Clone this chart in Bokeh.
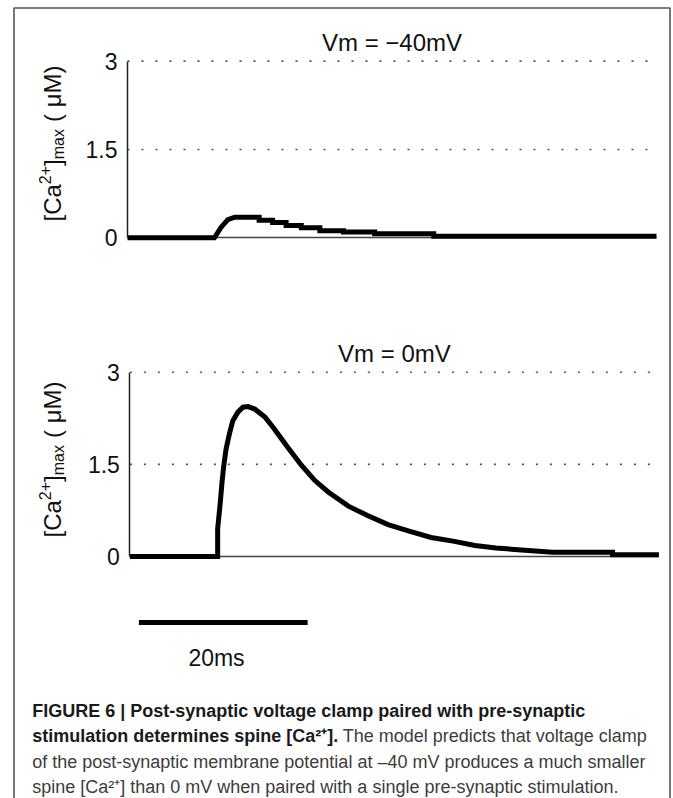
from math import pi

from bokeh.core.properties import value
from bokeh.embed import file_html
from bokeh.models import FixedTicker, LinearAxis, PrintfTickFormatter, Range1d
from bokeh.plotting import figure
from bokeh.resources import INLINE

# ---- data: spine [Ca2+] (uM) against time (ms) ----
# post-synaptic membrane clamped at -40 mV (quantised staircase decay)
t_neg40 = [0, 10.3, 11.1, 11.9, 12.7, 15.6, 15.6, 17.2, 17.2, 18.8, 18.8, 20.6,
           20.6, 22.8, 22.8, 25.6, 25.6, 29.3, 29.3, 36.3, 36.3, 62.7]
ca_neg40 = [0, 0, 0.18, 0.31, 0.35, 0.35, 0.30, 0.30, 0.26, 0.26, 0.21, 0.21,
            0.17, 0.17, 0.12, 0.12, 0.10, 0.10, 0.07, 0.07, 0.025, 0.025]

# post-synaptic membrane clamped at 0 mV
t_zero = [0, 10.4, 10.4, 10.7, 10.9, 11.1, 11.4, 11.8, 12.2, 12.8, 13.4, 14.0,
          14.8, 16.0, 17.1, 18.7, 20.3, 21.9, 23.5, 25.9, 28.1, 30.6, 33.2, 35.7,
          38.3, 40.9, 43.4, 46.0, 50.1, 57.2, 57.2, 62.7]
ca_zero = [0, 0, 0.45, 0.86, 1.18, 1.45, 1.75, 2.00, 2.21, 2.35, 2.43, 2.44,
           2.40, 2.27, 2.08, 1.78, 1.49, 1.24, 1.05, 0.82, 0.67, 0.52, 0.41, 0.31,
           0.25, 0.18, 0.14, 0.11, 0.07, 0.07, 0.03, 0.03]

panel_titles = ["Vm = \u221240mV", "Vm = 0mV"]
y_ticks = [0, 1.5, 3]
grid_levels = [1.5, 3]
scale_bar_ms = 20
scale_bar_label = "20ms"
T_END = 62.7

caption_lines = [
    ("FIGURE 6 | Post-synaptic voltage clamp paired with pre-synaptic", "bold"),
    ("stimulation determines spine [Ca\u00b2\u207a].", "bold"),
    ("The model predicts that voltage clamp", "normal"),
    ("of the post-synaptic membrane potential at \u201340 mV produces a much smaller", "normal"),
    ("spine [Ca\u00b2\u207a] than 0 mV when paired with a single pre-synaptic stimulation.", "normal"),
]

# ---- page geometry (pixels) ----
W, H = 673, 798
AX_LEFT, AX_RIGHT = 127, 656
MS_PER_PX = T_END / (AX_RIGHT - AX_LEFT)
FONT = value("Liberation Sans")


def value_range(zero_px, top_px, top_val=3.0):
    per = (zero_px - top_px) / top_val
    return Range1d(start=-(H - zero_px) / per, end=top_val + top_px / per)


def time_range(shift_px=0.0):
    left = AX_LEFT + shift_px
    return Range1d(start=-left * MS_PER_PX, end=(W - left) * MS_PER_PX)


p = figure(width=W, height=H, output_backend="svg", toolbar_location=None,
           x_axis_location=None, y_axis_location=None, min_border=0,
           x_range=time_range(), y_range=value_range(237.3, 60.6),
           background_fill_color="white", border_fill_color="white")
p.outline_line_color = None
p.grid.visible = False
p.extra_x_ranges = {"lower_t": time_range(2.4), "page_x": Range1d(0, W)}
p.extra_y_ranges = {"lower_ca": value_range(556.0, 371.7), "page_y": Range1d(H, 0)}

# outer frame of the figure (open at the bottom)
p.line(x=[13.5, 13.5, 669.5, 669.5], y=[H, 7.5, 7.5, H],
       x_range_name="page_x", y_range_name="page_y",
       line_color="#555555", line_width=1.6)

panels = [
    dict(t=t_neg40, ca=ca_neg40, title=panel_titles[0], xr="default", yr="default",
         title_y=41.7, label_base=221.0),
    dict(t=t_zero, ca=ca_zero, title=panel_titles[1], xr="lower_t", yr="lower_ca",
         title_y=353.3, label_base=537.0),
]

for pn in panels:
    xr, yr = pn["xr"], pn["yr"]

    # dotted horizontal grid
    p.segment(x0=[0] * len(grid_levels), x1=[pn["t"][-1]] * len(grid_levels),
              y0=grid_levels, y1=grid_levels, x_range_name=xr, y_range_name=yr,
              line_color="#555555", line_width=1.6, line_dash="2 12")

    # trace
    p.line(pn["t"], pn["ca"], x_range_name=xr, y_range_name=yr,
           line_color="black", line_width=5, line_join="miter")

    # value axis
    yax = LinearAxis(x_range_name=xr, y_range_name=yr, fixed_location=0, bounds=(0, 3),
                     ticker=FixedTicker(ticks=y_ticks, minor_ticks=[]),
                     formatter=PrintfTickFormatter(format="%g"),
                     major_tick_in=0, major_tick_out=0, minor_tick_in=0, minor_tick_out=0,
                     major_label_standoff=10, axis_line_width=1.5, axis_line_color="#222222",
                     major_label_text_font="Liberation Sans",
                     major_label_text_font_size="23px", major_label_text_color="#111111")
    p.add_layout(yax, "left")

    # zero line of the time axis
    xax = LinearAxis(x_range_name=xr, y_range_name=yr, fixed_location=0,
                     bounds=(0, pn["t"][-1]), ticker=FixedTicker(ticks=[], minor_ticks=[]),
                     major_tick_line_color=None, minor_tick_line_color=None,
                     major_label_text_font_size="0px",
                     axis_line_width=1.4, axis_line_color="#444444", level="underlay")
    p.add_layout(xax, "below")

    # panel title
    p.text(x=[T_END / 2], y=[pn["title_y"]], text=[pn["title"]],
           x_range_name=xr, y_range_name="page_y", text_font=FONT,
           text_font_size="24px", text_align="center", text_baseline="alphabetic",
           text_color="#111111")

    # rotated value-axis label: [Ca2+]max ( uM), set piece by piece along the axis
    b = pn["label_base"]
    pieces = [
        ("[Ca", 52.0, b, "24px"),
        ("2+", 44.0, b - 37.3, "16px"),
        ("]", 52.0, b - 55.5, "24px"),
        ("max", 57.5, b - 62.2, "16px"),
        ("( \u03bcM)", 52.0, b - 99.5, "24px"),
    ]
    for txt, lx, ly, size in pieces:
        p.text(x=[lx], y=[ly], text=[txt], x_range_name="page_x", y_range_name="page_y",
               angle=pi / 2, text_font=FONT, text_font_size=size,
               text_align="left", text_baseline="alphabetic", text_color="#111111")

# 20 ms scale bar
SCALE_BAR_START = 1.35
p.segment(x0=[SCALE_BAR_START], x1=[SCALE_BAR_START + scale_bar_ms], y0=[622], y1=[622],
          x_range_name="default", y_range_name="page_y",
          line_color="black", line_width=5)
p.text(x=[216.0], y=[657.3], text=[scale_bar_label], x_range_name="page_x",
       y_range_name="page_y", text_font=FONT, text_font_size="23px",
       text_align="center", text_baseline="alphabetic", text_color="#111111")

# caption: bold lead-in, lighter body text
CAP_X, CAP_RIGHT = 31.7, 646.3
cap_y = [710.7, 735.5, 761.0, 786.5]
cap_kw = dict(x_range_name="page_x", y_range_name="page_y", text_font=FONT,
              text_font_size="18px", text_baseline="alphabetic")
colors = {"bold": "#1a1a1a", "normal": "#3c3c3c"}
placements = [
    (CAP_X, cap_y[0], "left"),
    (CAP_X, cap_y[1], "left"),
    (CAP_RIGHT, cap_y[1], "right"),
    (CAP_X, cap_y[2], "left"),
    (CAP_X, cap_y[3], "left"),
]
for (txt, style), (cx, cy, align) in zip(caption_lines, placements):
    p.text(x=[cx], y=[cy], text=[txt], text_align=align, text_font_style=style,
           text_color=colors[style], **cap_kw)

open("out.html", "w").write(file_html(p, INLINE))
